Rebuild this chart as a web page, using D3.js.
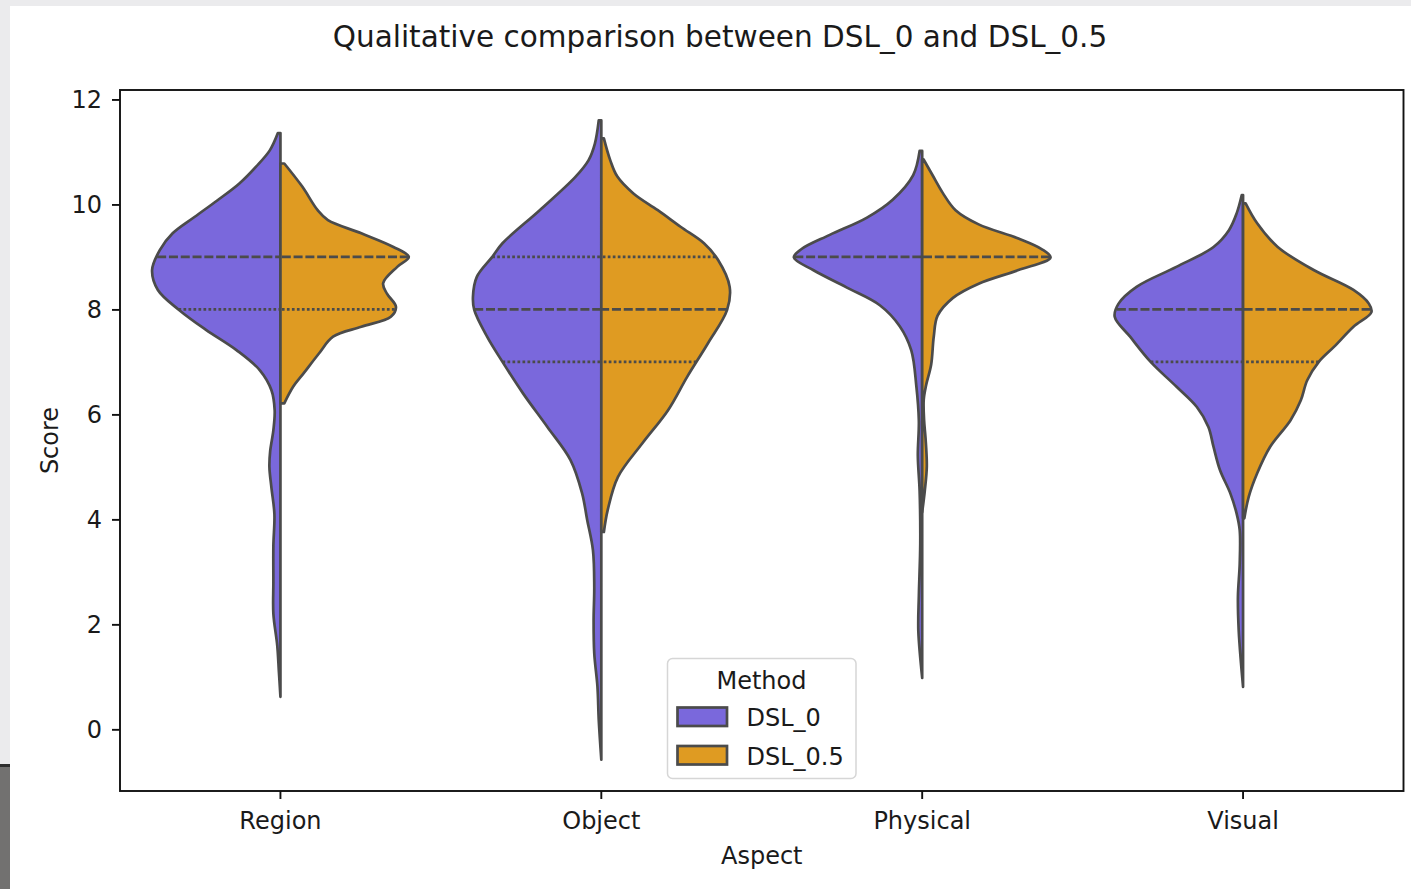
<!DOCTYPE html>
<html>
<head>
<meta charset="utf-8">
<script src="https://cdn.jsdelivr.net/npm/d3@7"></script>
<style>
  html, body { margin: 0; padding: 0; background: #ececee; }
  svg { display: block; }
  text { font-family: "DejaVu Sans", sans-serif; fill: #1a1a1a; }
</style>
</head>
<body>
<svg id="chart" width="1411" height="889"></svg>
<script>
// ---------- DATA ----------
const aspects = ["Region", "Object", "Physical", "Visual"];
const methods = ["DSL_0", "DSL_0.5"];
const yTicks = [0, 2, 4, 6, 8, 10, 12];
const titleText = "Qualitative comparison between DSL_0 and DSL_0.5";

// density profiles: [score, relative density (max = 1)]
const regionDSL0 = [[11.36,0.02],[11.03,0.083],[10.72,0.19],[10.40,0.32],[10.08,0.49],[9.76,0.67],[9.45,0.84],[9.13,0.94],[8.75,1.0],[8.37,0.955],[7.99,0.79],[7.61,0.58],[7.22,0.34],[6.84,0.16],[6.46,0.07],[6.08,0.045],[5.70,0.055],[5.3,0.08],[5.0,0.086],[4.6,0.07],[4.1,0.047],[3.5,0.055],[2.8,0.055],[2.2,0.055],[1.6,0.025],[1.1,0.012],[0.62,0.0]];
const regionDSL05 = [[10.78,0.03],[10.34,0.17],[9.89,0.29],[9.70,0.37],[9.45,0.63],[9.19,0.88],[9.0,1.0],[8.81,0.91],[8.50,0.80],[8.30,0.83],[8.05,0.90],[7.86,0.86],[7.67,0.63],[7.48,0.41],[7.16,0.30],[6.78,0.18],[6.53,0.10],[6.21,0.03]];
const objectDSL0 = [[11.6,0.02],[11.16,0.05],[10.84,0.10],[10.53,0.20],[9.89,0.48],[9.26,0.77],[9.0,0.85],[8.62,0.97],[8.24,1.0],[7.99,0.99],[7.48,0.89],[7.0,0.77],[6.40,0.61],[5.76,0.42],[5.13,0.24],[4.50,0.15],[3.99,0.11],[3.41,0.065],[2.71,0.055],[2.08,0.06],[1.45,0.055],[0.81,0.03],[0.18,0.02],[-0.58,0.0]];
const objectDSL05 = [[11.26,0.02],[10.84,0.07],[10.53,0.125],[10.21,0.25],[9.89,0.44],[9.57,0.62],[9.26,0.80],[8.94,0.91],[8.43,1.0],[7.99,0.98],[7.35,0.83],[6.72,0.67],[6.08,0.52],[5.45,0.32],[4.81,0.13],[4.18,0.05],[3.76,0.02]];
const physicalDSL0 = [[11.02,0.02],[10.56,0.07],[10.09,0.23],[9.75,0.43],[9.42,0.72],[9.15,0.94],[8.99,1.0],[8.75,0.85],[8.42,0.59],[8.08,0.33],[7.68,0.175],[7.22,0.085],[6.55,0.046],[5.88,0.026],[5.21,0.034],[4.54,0.02],[3.54,0.015],[2.54,0.026],[1.87,0.03],[0.98,0.0]];
const physicalDSL05 = [[10.86,0.01],[10.56,0.08],[10.22,0.16],[9.89,0.26],[9.62,0.44],[9.35,0.75],[9.15,0.93],[8.99,1.0],[8.75,0.75],[8.49,0.44],[8.22,0.24],[7.88,0.12],[7.48,0.09],[6.95,0.07],[6.55,0.03],[6.28,0.012],[5.88,0.015],[5.55,0.026],[5.01,0.036],[4.54,0.02],[4.14,0.0]];
const visualDSL0 = [[10.18,0.01],[9.83,0.05],[9.51,0.11],[9.19,0.23],[8.81,0.52],[8.43,0.83],[8.11,0.97],[7.86,1.0],[7.48,0.88],[7.0,0.72],[6.53,0.52],[6.14,0.36],[5.76,0.27],[5.38,0.23],[4.94,0.18],[4.50,0.10],[4.11,0.05],[3.79,0.026],[3.16,0.026],[2.53,0.04],[1.89,0.034],[1.26,0.016],[0.81,0.0]];
const visualDSL05 = [[10.02,0.02],[9.64,0.11],[9.19,0.27],[8.75,0.55],[8.37,0.86],[8.11,0.98],[7.95,1.0],[7.67,0.86],[7.29,0.71],[7.0,0.59],[6.65,0.50],[6.27,0.45],[5.89,0.37],[5.38,0.21],[4.88,0.11],[4.43,0.044],[4.02,0.01]];

// quartiles [Q1, median, Q3] per aspect
const quartilesDSL0  = [[8,9,9],[7,8,9],[9,9,9],[7,8,8]];
const quartilesDSL05 = [[8,9,9],[7,8,9],[9,9,9],[7,8,8]];

// ---------- LAYOUT ----------
const W = 1411, H = 889;
const plot = { left: 120, right: 1403.5, top: 90, bottom: 791 };
const colors = { "DSL_0": "#7a68dc", "DSL_0.5": "#df9b22" };
const edge = "#4b4b4b";
const lw = 2.7;

const densities = {
  "DSL_0":   [regionDSL0, objectDSL0, physicalDSL0, visualDSL0],
  "DSL_0.5": [regionDSL05, objectDSL05, physicalDSL05, visualDSL05]
};
const quartiles = { "DSL_0": quartilesDSL0, "DSL_0.5": quartilesDSL05 };

const svg = d3.select("#chart");

// page background pieces
svg.append("rect").attr("x", 0).attr("y", 0).attr("width", W).attr("height", H).attr("fill", "#ebebed");
svg.append("rect").attr("x", 10).attr("y", 6).attr("width", W - 10).attr("height", H - 6).attr("fill", "#ffffff");
svg.append("rect").attr("x", 0).attr("y", 765).attr("width", 10).attr("height", H - 765).attr("fill", "#727170");
svg.append("rect").attr("x", 0).attr("y", 764).attr("width", 10).attr("height", 3).attr("fill", "#2e2e2e");

const x = d3.scaleBand().domain(aspects).range([plot.left, plot.right]).padding(0);
const y = d3.scaleLinear().domain([-1.175, 12.18]).range([plot.bottom, plot.top]);
const w = d3.scaleLinear().domain([0, 1]).range([0, x.bandwidth() * 0.4]);

function densAt(profile, s) {
  for (let i = 0; i < profile.length - 1; i++) {
    const a = profile[i], b = profile[i + 1];
    if ((s <= a[0] && s >= b[0])) {
      const t = (a[0] - s) / (a[0] - b[0]);
      return a[1] + t * (b[1] - a[1]);
    }
  }
  return 0;
}

const g = svg.append("g");

methods.forEach((m, mi) => {
  const side = mi === 0 ? -1 : 1;
  aspects.forEach((a, ai) => {
    const cx = x(a) + x.bandwidth() / 2;
    const prof = densities[m][ai];
    const area = d3.area()
      .y(d => y(d[0]))
      .x0(() => cx)
      .x1(d => cx + side * w(d[1]))
      .curve(d3.curveCatmullRom.alpha(0.5));
    g.append("path")
      .attr("d", area(prof))
      .attr("fill", colors[m])
      .attr("stroke", edge)
      .attr("stroke-width", lw)
      .attr("stroke-linejoin", "round");

    const [q1, med, q3] = quartiles[m][ai];
    const lines = [];
    if (q1 !== med) lines.push({ v: q1, dash: "2.7,2.3" });
    if (q3 !== med) lines.push({ v: q3, dash: "2.7,2.3" });
    lines.push({ v: med, dash: "9,2.8" });
    lines.forEach(L => {
      const hw = w(densAt(prof, L.v));
      g.append("line")
        .attr("x1", cx + side * hw).attr("x2", cx)
        .attr("y1", y(L.v)).attr("y2", y(L.v))
        .attr("stroke", edge)
        .attr("stroke-width", lw)
        .attr("stroke-dasharray", L.dash);
    });
  });
});

// axes frame
svg.append("rect")
  .attr("x", plot.left).attr("y", plot.top)
  .attr("width", plot.right - plot.left).attr("height", plot.bottom - plot.top)
  .attr("fill", "none").attr("stroke", "#111").attr("stroke-width", 1.9);

// y axis
const yAxis = svg.append("g").attr("transform", `translate(${plot.left},0)`)
  .call(d3.axisLeft(y).tickValues(yTicks).tickSize(8).tickPadding(10).tickFormat(d3.format("d")));
yAxis.select(".domain").remove();
yAxis.selectAll(".tick line").attr("stroke", "#111").attr("stroke-width", 1.9);
yAxis.selectAll(".tick text").attr("font-size", 24).attr("font-family", "DejaVu Sans").attr("fill", "#1a1a1a");

// x axis
const xAxis = svg.append("g").attr("transform", `translate(0,${plot.bottom})`)
  .call(d3.axisBottom(x).tickSize(8).tickPadding(13));
xAxis.select(".domain").remove();
xAxis.selectAll(".tick line").attr("stroke", "#111").attr("stroke-width", 1.9);
xAxis.selectAll(".tick text").attr("font-size", 24).attr("font-family", "DejaVu Sans").attr("fill", "#1a1a1a");

// labels
svg.append("text").attr("x", (plot.left + plot.right) / 2).attr("y", 864)
  .attr("text-anchor", "middle").attr("font-size", 24).text("Aspect");
svg.append("text").attr("transform", `translate(57.5,${(plot.top + plot.bottom) / 2}) rotate(-90)`)
  .attr("text-anchor", "middle").attr("font-size", 24).text("Score");
svg.append("text").attr("x", 720).attr("y", 47)
  .attr("text-anchor", "middle").attr("font-size", 29.5).text(titleText);

// legend
const lg = svg.append("g");
lg.append("rect").attr("x", 667.5).attr("y", 658.5).attr("width", 188.5).attr("height", 120)
  .attr("rx", 5).attr("fill", "#ffffff").attr("fill-opacity", 0.8)
  .attr("stroke", "#d6d6d6").attr("stroke-width", 1.5);
lg.append("text").attr("x", 761.5).attr("y", 688.5).attr("text-anchor", "middle")
  .attr("font-size", 24).text("Method");
methods.forEach((m, i) => {
  const yy = 707.5 + i * 38.5;
  lg.append("rect").attr("x", 677.5).attr("y", yy).attr("width", 49.5).attr("height", 18.5)
    .attr("fill", colors[m]).attr("stroke", edge).attr("stroke-width", lw);
  lg.append("text").attr("x", 746.5).attr("y", yy + 18.5).attr("font-size", 24).text(m);
});
</script>
</body>
</html>
